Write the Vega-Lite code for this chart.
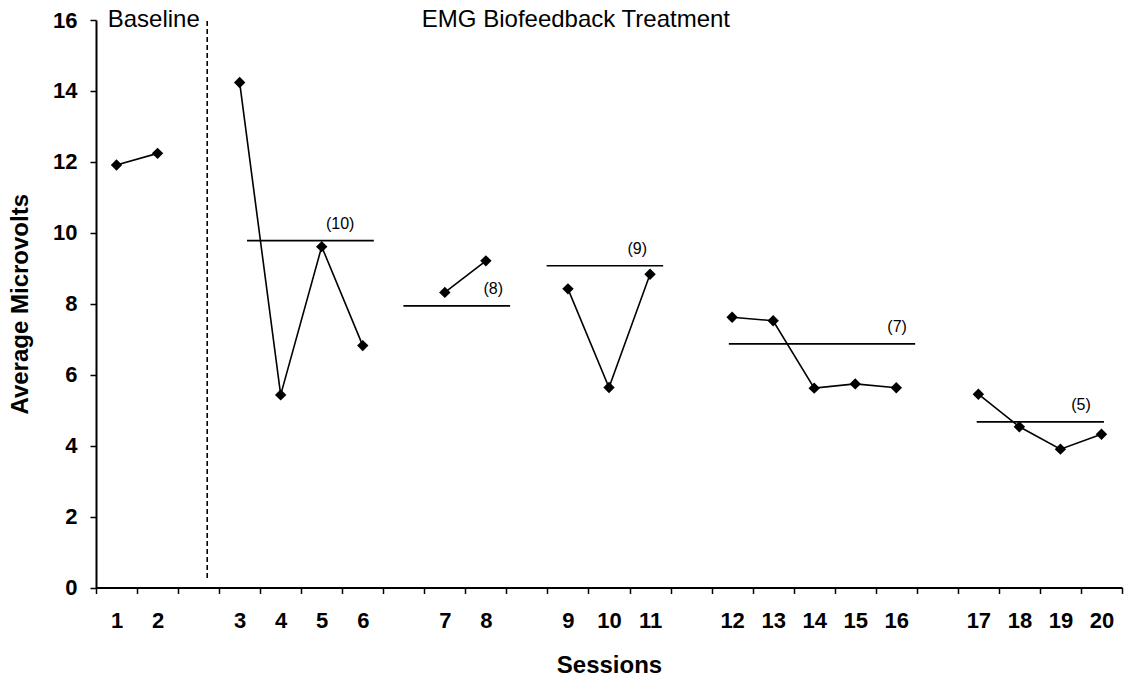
{
  "$schema": "https://vega.github.io/schema/vega-lite/v6.json",
  "width": 1026,
  "height": 567.5,
  "autosize": {"type": "none"},
  "padding": {"left": 96, "top": 20, "right": 9, "bottom": 93.5},
  "background": "white",
  "config": {
    "view": {"stroke": null},
    "font": "Liberation Sans",
    "axis": {
      "grid": false,
      "labelFontWeight": "bold",
      "labelColor": "black",
      "domainColor": "black",
      "domainWidth": 2,
      "tickColor": "black",
      "tickWidth": 1.5,
      "tickSize": 6,
      "titleFontWeight": "bold",
      "titleColor": "black",
      "labelOverlap": false,
      "labelFlush": false,
      "labelBound": false
    }
  },
  "datasets": {
    "sessions": [
      {"session": 1, "slot": 0.5, "uv": 11.91, "phase": "Baseline"},
      {"session": 2, "slot": 1.5, "uv": 12.24, "phase": "Baseline"},
      {"session": 3, "slot": 3.5, "uv": 14.24, "phase": "T10"},
      {"session": 4, "slot": 4.5, "uv": 5.43, "phase": "T10"},
      {"session": 5, "slot": 5.5, "uv": 9.61, "phase": "T10"},
      {"session": 6, "slot": 6.5, "uv": 6.82, "phase": "T10"},
      {"session": 7, "slot": 8.5, "uv": 8.32, "phase": "T8"},
      {"session": 8, "slot": 9.5, "uv": 9.21, "phase": "T8"},
      {"session": 9, "slot": 11.5, "uv": 8.42, "phase": "T9"},
      {"session": 10, "slot": 12.5, "uv": 5.64, "phase": "T9"},
      {"session": 11, "slot": 13.5, "uv": 8.83, "phase": "T9"},
      {"session": 12, "slot": 15.5, "uv": 7.62, "phase": "T7"},
      {"session": 13, "slot": 16.5, "uv": 7.52, "phase": "T7"},
      {"session": 14, "slot": 17.5, "uv": 5.62, "phase": "T7"},
      {"session": 15, "slot": 18.5, "uv": 5.74, "phase": "T7"},
      {"session": 16, "slot": 19.5, "uv": 5.63, "phase": "T7"},
      {"session": 17, "slot": 21.5, "uv": 5.45, "phase": "T5"},
      {"session": 18, "slot": 22.5, "uv": 4.53, "phase": "T5"},
      {"session": 19, "slot": 23.5, "uv": 3.9, "phase": "T5"},
      {"session": 20, "slot": 24.5, "uv": 4.32, "phase": "T5"}
    ],
    "means": [
      {"label": "(10)", "start": 3.68, "end": 6.77, "mean": 9.78, "lx": 5.95},
      {"label": "(8)", "start": 7.49, "end": 10.09, "mean": 7.94, "lx": 9.68},
      {"label": "(9)", "start": 10.98, "end": 13.82, "mean": 9.07, "lx": 13.19},
      {"label": "(7)", "start": 15.42, "end": 19.96, "mean": 6.87, "lx": 19.52},
      {"label": "(5)", "start": 21.46, "end": 24.56, "mean": 4.67, "lx": 24.0}
    ],
    "phaseline": [
      {"pos": 2.71, "bottom": 0.27, "top": 16}
    ],
    "phases": [
      {"name": "Baseline", "pos": 0.285},
      {"name": "EMG Biofeedback Treatment", "pos": 7.94}
    ]
  },
  "layer": [
    {
      "data": {"name": "sessions"},
      "mark": {"type": "line", "color": "black", "strokeWidth": 1.6},
      "encoding": {
        "x": {
          "field": "slot",
          "type": "quantitative",
          "scale": {"domain": [0, 25], "nice": false, "zero": false},
          "axis": {
            "title": "Sessions",
            "tickCount": 200,
            "values": [0, 0.5, 1, 1.5, 2, 3, 3.5, 4, 4.5, 5, 5.5, 6, 6.5, 7, 8, 8.5, 9, 9.5, 10, 11, 11.5, 12, 12.5, 13, 13.5, 14, 15, 15.5, 16, 16.5, 17, 17.5, 18, 18.5, 19, 19.5, 20, 21, 21.5, 22, 22.5, 23, 23.5, 24, 24.5, 25],
            "labelExpr": "datum.value % 1 == 0 ? '' : ['1','2','','3','4','5','6','','7','8','','9','10','11','','12','13','14','15','16','','17','18','19','20'][floor(datum.value)]",
            "tickOpacity": {"condition": {"test": "datum.value % 1 != 0", "value": 0}, "value": 1},
            "labelOverlap": false,
            "labelFlush": false,
            "labelBound": false,
            "labelFontSize": 22,
            "labelPadding": 17,
            "titleFontSize": 24,
            "titlePadding": 22
          }
        },
        "y": {
          "field": "uv",
          "type": "quantitative",
          "scale": {"domain": [0, 16], "nice": false, "zero": true},
          "axis": {
            "title": "Average Microvolts",
            "format": "d",
            "values": [0, 2, 4, 6, 8, 10, 12, 14, 16],
            "labelFontSize": 22,
            "labelPadding": 13,
            "titleFontSize": 24,
            "titlePadding": 20
          }
        },
        "detail": {"field": "phase", "type": "nominal"}
      }
    },
    {
      "data": {"name": "sessions"},
      "mark": {"type": "point", "shape": "diamond", "filled": true, "color": "black", "size": 130, "opacity": 1},
      "encoding": {
        "x": {"field": "slot", "type": "quantitative"},
        "y": {"field": "uv", "type": "quantitative"}
      }
    },
    {
      "data": {"name": "means"},
      "mark": {"type": "rule", "color": "black", "strokeWidth": 1.6},
      "encoding": {
        "x": {"field": "start", "type": "quantitative"},
        "x2": {"field": "end"},
        "y": {"field": "mean", "type": "quantitative"}
      }
    },
    {
      "data": {"name": "means"},
      "mark": {"type": "text", "fontSize": 16, "color": "black", "align": "center", "baseline": "middle", "dy": -17},
      "encoding": {
        "x": {"field": "lx", "type": "quantitative"},
        "y": {"field": "mean", "type": "quantitative"},
        "text": {"field": "label"}
      }
    },
    {
      "data": {"name": "phaseline"},
      "mark": {"type": "rule", "color": "black", "strokeWidth": 1.6, "strokeDash": [5, 3]},
      "encoding": {
        "x": {"field": "pos", "type": "quantitative"},
        "y": {"field": "bottom", "type": "quantitative"},
        "y2": {"field": "top"}
      }
    },
    {
      "data": {"name": "phases"},
      "mark": {"type": "text", "fontSize": 24, "color": "black", "align": "left", "baseline": "alphabetic", "dy": 7},
      "encoding": {
        "x": {"field": "pos", "type": "quantitative"},
        "y": {"datum": 16, "type": "quantitative"},
        "text": {"field": "name"}
      }
    }
  ]
}
